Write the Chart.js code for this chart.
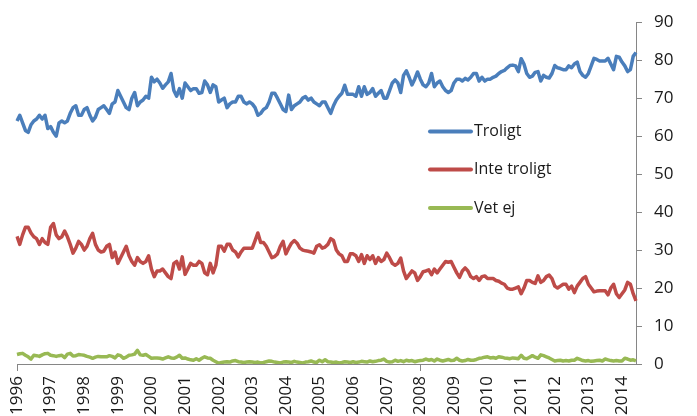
<!DOCTYPE html>
<html>
<head>
<meta charset="utf-8">
<script src="https://cdn.jsdelivr.net/npm/chart.js@4"></script>
<style>
  body { margin: 0; background: #fff; }
  canvas { display: block; }
</style>
</head>
<body>
<canvas id="chart" width="697" height="416"></canvas>
<script>
const years = [1996, 1997, 1998, 1999, 2000, 2001, 2002, 2003, 2004, 2005, 2006, 2007, 2008, 2009, 2010, 2011, 2012, 2013, 2014];
const months = ["01", "02", "03", "04", "05", "06", "07", "08", "09", "10", "11", "12"];
const seriesNames = ["Troligt", "Inte troligt", "Vet ej"];
const yTicks = [0, 10, 20, 30, 40, 50, 60, 70, 80, 90];

// monthly values, one row per year (Jan 1996 - Jun 2014)
const troligt = [
  64, 65.5, 63.5, 61.5, 61, 63, 64, 64.5, 65.5, 64.5, 65.5, 62,
  62.5, 61, 60, 63.5, 64, 63.5, 64, 66, 67.5, 68, 65.5, 65.5,
  67, 67.5, 65.5, 64, 65, 67, 67.5, 68, 67, 66, 68.5, 69,
  72, 70.5, 69, 67.5, 67, 70, 71.5, 68, 69, 69.5, 70.5, 70,
  75.5, 74.3, 75, 74, 72.6, 73.5, 74.3, 76.5, 72, 70.5, 72.5, 70,
  74, 73, 72, 72.5, 72.5, 71.3, 71.5, 74.5, 73.5, 71.5, 73.5, 73,
  69, 69.5, 70, 67.5, 68.5, 69, 69, 70.5, 70.5, 69, 68.5, 69,
  68.5, 67.5, 65.5, 66, 67, 67.5, 69, 71.3, 71.3, 70, 68.5, 67,
  66.5, 70.8, 67, 68, 68.5, 69, 70, 70.4, 69.5, 70, 69, 68.5,
  68, 69, 69, 67.5, 66, 68, 69.5, 70.5, 71.3, 73.4, 71, 71,
  71, 70.5, 73, 70.5, 73, 71, 71.5, 72.5, 70.5, 71.3, 72, 70,
  70, 72, 74, 74.8, 74, 71.5, 76, 77.2, 75.5, 73.5, 75, 76.9,
  75, 73.5, 73, 74, 76.5, 73, 74, 74.5, 73, 72, 71.5, 72,
  74, 75, 75, 74.5, 75.2, 74.8, 75.5, 76.5, 76.5, 74.5, 75.5, 74.5,
  75, 75, 75.5, 75.8, 76.5, 77, 77.3, 78, 78.6, 78.7, 78.5, 77,
  80.4, 79, 76.5, 75.5, 75.8, 76.8, 77, 74.5, 76, 75.5, 75.3, 76.5,
  78.6, 78, 77.8, 77.5, 77.5, 78.5, 78, 79, 79.5, 77, 76, 75.5,
  76.5, 78.5, 80.5, 80.2, 79.8, 79.8, 79.8, 80.5, 79, 77.5, 81, 80.8,
  79.5, 78.5, 77, 77.5, 81, 82
];
const inteTroligt = [
  33.6, 31.5, 34, 36, 36, 34.5, 33.5, 33, 31.5, 33, 32, 31.5,
  36, 37, 34, 33, 33.5, 35, 33.5, 31.5, 29.2, 30.5, 32.3, 31.5,
  30, 31, 33, 34.4, 31.5, 30, 29.5, 29.7, 31, 31.5, 28, 29.5,
  26.5, 28, 29.5, 31, 28.5, 27, 26, 28, 27, 26.5, 27, 28.5,
  25, 23, 24.5, 24.5, 25, 24, 23, 22.5, 26.5, 27, 25, 28.2,
  23.6, 25, 26.5, 26, 26, 27, 26.5, 24, 23.5, 26.5, 24, 26,
  31, 31, 29.7, 31.5, 31.5, 30, 29.5, 28.2, 29.5, 30.5, 30.5, 30.5,
  30.5, 32.5, 34.5, 32, 32, 31, 29.5, 28, 28.3, 29, 31, 32.3,
  29, 30.5, 31.8, 32.5, 31.8, 30.5, 30, 29.8, 29.7, 29.5, 29.2, 31,
  31.4, 30.5, 30.8, 31.5, 33, 32.5, 30, 29, 28.5, 27, 27, 29,
  29, 28.5, 27, 28.8, 26.5, 28.5, 27.5, 28.5, 26.5, 28, 27, 27.5,
  29.2, 28, 26.5, 26, 26.5, 27.9, 24.5, 22.5, 23.5, 24.5, 24, 22,
  23, 24.3, 24.5, 24.8, 23.5, 25, 24, 25, 26, 27, 26.8, 27,
  25.5, 24, 22.8, 24.5, 25.3, 24.5, 23, 22.5, 23, 22, 23, 23.2,
  22.5, 22.5, 22.5, 22, 21.8, 21.3, 21, 20, 19.7, 19.7, 20, 20.3,
  18.5, 20, 22, 22, 21.5, 21.2, 23.2, 21.5, 22, 23, 23.4, 22.5,
  20.5, 20, 20.5, 21, 21, 19.7, 20.5, 18.8, 20.5, 21.5, 22.5, 23,
  21, 20, 19, 19.2, 19.3, 19.3, 19.3, 18.2, 20, 21, 18.5, 17.5,
  18.5, 19.5, 21.5, 21, 18.5, 16.6
];
const vetEj = [
  2.5, 2.7, 2.8, 2.3, 1.9, 1.3, 2.3, 2.2, 2.0, 2.4, 2.7, 2.8,
  2.3, 2.2, 2.0, 2.2, 2.3, 1.7, 2.6, 2.8, 2.1, 2.2, 2.5, 2.4,
  2.3, 2.0, 1.8, 1.5, 1.8, 2.0, 1.9, 1.9, 1.9, 2.2, 2.0, 1.6,
  2.4, 2.2, 1.5, 1.8, 2.3, 2.4, 2.6, 3.6, 2.4, 2.3, 2.5, 2.0,
  1.5, 1.6, 1.6, 1.5, 1.3, 1.6, 1.9, 1.6, 1.5, 1.8, 2.3, 1.5,
  1.6, 1.3, 1.1, 1.0, 1.4, 1.0, 1.5, 1.9, 1.6, 1.5, 1.0, 0.6,
  0.2, 0.4, 0.5, 0.6, 0.5, 0.8, 0.9, 0.6, 0.5, 0.4, 0.5, 0.6,
  0.5, 0.4, 0.5, 0.3, 0.4, 0.6, 0.8, 0.7, 0.5, 0.4, 0.3, 0.5,
  0.6, 0.5, 0.4, 0.7, 0.5, 0.4, 0.3, 0.5, 0.6, 0.8, 0.5, 0.4,
  1.0, 0.6, 1.1, 0.6, 0.5, 0.4, 0.5, 0.3, 0.4, 0.6, 0.5, 0.4,
  0.6, 0.4, 0.5, 0.7, 0.6, 0.5, 0.8, 0.6, 0.7, 0.9, 1.0, 1.3,
  0.7, 0.5, 0.6, 1.0, 0.7, 0.9, 0.6, 1.0, 0.8, 0.9, 0.6, 0.8,
  0.9, 1.0, 1.3, 1.0, 1.2, 0.8, 1.3, 1.0, 0.8, 1.0, 1.2, 0.9,
  1.0, 1.5, 1.0, 0.8, 0.9, 1.2, 1.0, 1.0, 1.2, 1.5, 1.6, 1.8,
  1.9, 1.6, 1.7, 1.5, 1.9, 1.8, 1.6, 1.5, 1.4, 1.6, 1.5, 1.4,
  2.3, 1.5, 1.4, 1.8, 2.2, 1.8, 1.5, 2.4, 2.2, 1.9, 1.6, 1.2,
  0.8, 0.9, 1.0, 0.8, 0.9, 0.8, 1.0, 1.0, 1.5, 1.2, 0.9, 0.8,
  0.9, 0.7, 0.8, 0.9, 1.0, 0.8, 1.3, 1.1, 0.9, 0.8, 0.9, 0.8,
  0.8, 1.5, 1.3, 1.0, 1.1, 0.8
];

const colors = ["#4A7EBB", "#BE4B48", "#98B954"];
const axisColor = "#868686";
const textColor = "#1a1a1a";
const tickFont = { family: "'Open Sans'", size: 17 };

const labels = years.flatMap(y => months.map(m => y + "-" + m)).slice(0, troligt.length);

// legend drawn inside the plot, like the original
const insideLegend = {
  id: "insideLegend",
  afterDraw(chart) {
    const ctx = chart.ctx;
    const rows = [131.5, 169.5, 208];
    ctx.save();
    chart.data.datasets.forEach((ds, i) => {
      ctx.strokeStyle = ds.borderColor;
      ctx.lineWidth = 4;
      ctx.lineCap = "round";
      ctx.beginPath();
      ctx.moveTo(430, rows[i]);
      ctx.lineTo(471, rows[i]);
      ctx.stroke();
      ctx.fillStyle = textColor;
      ctx.font = "16px 'Open Sans'";
      ctx.textBaseline = "middle";
      ctx.fillText(ds.label, 474, rows[i]);
    });
    ctx.restore();
  }
};

new Chart(document.getElementById("chart"), {
  type: "line",
  data: {
    labels: labels,
    datasets: [
      { label: seriesNames[0], data: troligt, borderColor: colors[0] },
      { label: seriesNames[1], data: inteTroligt, borderColor: colors[1] },
      { label: seriesNames[2], data: vetEj, borderColor: colors[2] }
    ]
  },
  options: {
    responsive: false,
    animation: false,
    layout: { padding: { left: 17, top: 18, right: 0, bottom: 0 } },
    elements: {
      point: { radius: 0 },
      line: { borderWidth: 3.5, tension: 0, borderJoinStyle: "round" }
    },
    plugins: {
      legend: { display: false },
      tooltip: { enabled: false }
    },
    scales: {
      x: {
        type: "category",
        offset: false,
        afterFit: scale => { scale.height = 52; },
        border: { color: axisColor, width: 1 },
        grid: {
          drawOnChartArea: false,
          tickLength: 7,
          color: c => (c.index % 12 === 0 ? axisColor : "rgba(0,0,0,0)")
        },
        ticks: {
          autoSkip: false,
          minRotation: 90,
          maxRotation: 90,
          padding: 5,
          color: textColor,
          font: tickFont,
          callback: function (value, index) {
            return index % 12 === 0 ? this.getLabelForValue(value).slice(0, 4) : null;
          }
        }
      },
      y: {
        position: "right",
        min: yTicks[0],
        max: yTicks[yTicks.length - 1],
        afterFit: scale => { scale.width = 61; },
        afterBuildTicks: scale => { scale.ticks = yTicks.map(v => ({ value: v })); },
        border: { color: axisColor, width: 1 },
        grid: { drawOnChartArea: false, tickLength: 6, color: axisColor },
        ticks: {
          padding: 12,
          color: textColor,
          font: tickFont
        }
      }
    }
  },
  plugins: [insideLegend]
});
</script>
</body>
</html>
